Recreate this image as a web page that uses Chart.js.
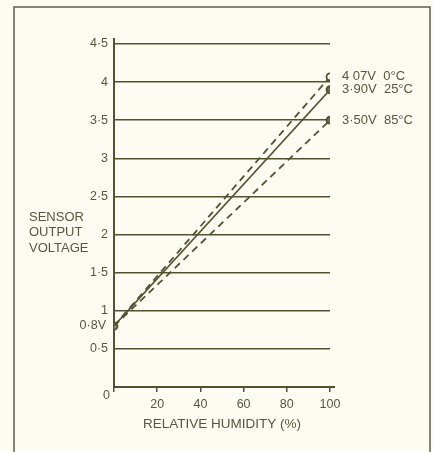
<!DOCTYPE html>
<html>
<head>
<meta charset="utf-8">
<script src="https://cdn.jsdelivr.net/npm/chart.js@4.4.0/dist/chart.umd.min.js"></script>
<style>
  html, body { margin: 0; padding: 0; background: #fcfcf3; }
  canvas { display: block; }
</style>
</head>
<body>
<canvas id="chart" width="433" height="452"></canvas>
<script>
// humidity (%) at the two ends of each line
const humidity = [0, 100];
// sensor output voltage per temperature
const volts0C = [0.8, 4.07];
const volts25C = [0.8, 3.90];
const volts85C = [0.8, 3.50];
const endLabels = ["4 07V  0°C", "3·90V  25°C", "3·50V  85°C"];
const startLabel = "0·8V";
const yTitleLines = ["SENSOR", "OUTPUT", "VOLTAGE"];

const ink = "#4f5430";
const textInk = "#55593a";
const paper = "#fcfcf3";
const font = "Liberation Sans, Arial, sans-serif";

const toPts = (ys) => humidity.map((x, i) => ({ x: x, y: ys[i] }));

// frame, axis extensions and loose texts
const extras = {
    id: "extras",
    beforeDraw(chart) {
        const ctx = chart.ctx;
        ctx.save();
        ctx.fillStyle = paper;
        ctx.fillRect(0, 0, chart.width, chart.height);
        ctx.strokeStyle = "#5c5c50";
        ctx.lineWidth = 1.5;
        ctx.beginPath();
        ctx.moveTo(14, 460);
        ctx.lineTo(14, 7);
        ctx.lineTo(430, 7);
        ctx.lineTo(430, 460);
        ctx.stroke();
        ctx.restore();
    },
    afterDraw(chart) {
        const ctx = chart.ctx;
        const xs = chart.scales.x, ys = chart.scales.y;
        const x0 = xs.getPixelForValue(0), y0 = ys.getPixelForValue(0);
        ctx.save();
        ctx.strokeStyle = ink;
        ctx.lineWidth = 2;
        ctx.beginPath();
        ctx.moveTo(x0, ys.top);
        ctx.lineTo(x0, ys.top - 6);
        ctx.moveTo(xs.right, y0);
        ctx.lineTo(xs.right + 5, y0);
        ctx.stroke();

        ctx.fillStyle = textInk;
        ctx.font = "13px " + font;
        ctx.textBaseline = "middle";
        // end-of-line labels
        ctx.textAlign = "left";
        const ends = [volts0C[1], volts25C[1], volts85C[1]];
        ends.forEach((v, i) => {
            ctx.fillText(endLabels[i], xs.getPixelForValue(100) + 12, ys.getPixelForValue(v));
        });
        // start label
        ctx.font = "12.5px " + font;
        ctx.textAlign = "right";
        ctx.fillText(startLabel, x0 - 8, ys.getPixelForValue(volts25C[0]));
        // origin zero
        ctx.fillText("0", x0 - 4, y0 + 9);
        // y axis title
        ctx.textAlign = "left";
        ctx.font = "13px " + font;
        yTitleLines.forEach((t, i) => ctx.fillText(t, 29, 217 + i * 15.5));
        ctx.restore();
    }
};

new Chart(document.getElementById("chart").getContext("2d"), {
    type: "scatter",
    data: {
        datasets: [
            {
                label: "0°C",
                data: toPts(volts0C),
                showLine: true,
                borderColor: ink,
                borderWidth: 1.8,
                borderDash: [7, 5],
                pointRadius: [0, 3.5],
                pointBorderWidth: 1.8,
                pointBorderColor: ink,
                pointBackgroundColor: paper
            },
            {
                label: "25°C",
                data: toPts(volts25C),
                showLine: true,
                borderColor: ink,
                borderWidth: 1.6,
                pointRadius: [3.5, 3.5],
                pointBorderWidth: 1.8,
                pointBorderColor: ink,
                pointBackgroundColor: ["#8c9070", "#6a6e48"]
            },
            {
                label: "85°C",
                data: toPts(volts85C),
                showLine: true,
                borderColor: ink,
                borderWidth: 1.8,
                borderDash: [7, 5],
                pointRadius: [0, 3.5],
                pointBorderWidth: 1.8,
                pointBorderColor: ink,
                pointBackgroundColor: "#6a6e48"
            }
        ]
    },
    options: {
        responsive: false,
        animation: false,
        layout: { padding: { left: 0, right: 103, top: 44, bottom: 0 } },
        plugins: {
            legend: { display: false },
            tooltip: { enabled: false }
        },
        scales: {
            x: {
                type: "linear",
                min: 0,
                max: 100,
                afterFit: (s) => { s.height = 65; },
                ticks: {
                    stepSize: 20,
                    padding: 5,
                    color: textInk,
                    font: { family: font, size: 12.5 },
                    callback: (v) => (v === 0 ? "" : String(v))
                },
                grid: {
                    drawOnChartArea: false,
                    drawTicks: true,
                    tickLength: 5,
                    color: ink,
                    lineWidth: 1.5
                },
                border: { display: true, color: ink, width: 2 },
                title: {
                    display: true,
                    text: "RELATIVE HUMIDITY (%)",
                    color: textInk,
                    font: { family: font, size: 13.5 },
                    padding: { top: 4, bottom: 20 }
                }
            },
            y: {
                min: 0,
                max: 4.5,
                afterFit: (s) => { s.width = 114; },
                ticks: {
                    stepSize: 0.5,
                    padding: 6,
                    color: textInk,
                    font: { family: font, size: 12.5 },
                    callback: (v) => (v === 0 ? "" : String(v).replace(".", "·"))
                },
                grid: {
                    drawTicks: false,
                    color: ink,
                    lineWidth: 1.6
                },
                border: { display: true, color: ink, width: 2 }
            }
        }
    },
    plugins: [extras]
});
</script>
</body>
</html>
